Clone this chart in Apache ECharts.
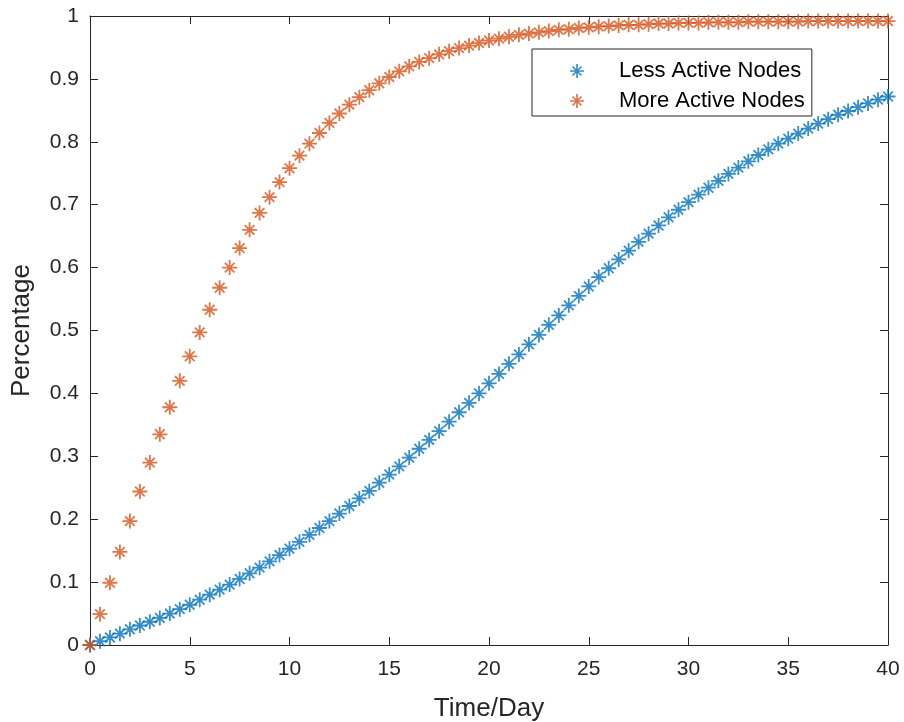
<!DOCTYPE html>
<html>
<head>
<meta charset="utf-8">
<script src="https://cdn.jsdelivr.net/npm/echarts@6/dist/echarts.min.js"></script>
<style>
html,body{margin:0;padding:0;background:#fff;}
#c{width:904px;height:722px;}
</style>
</head>
<body>
<div id="c"></div>
<script>
const days = [0,0.5,1,1.5,2,2.5,3,3.5,4,4.5,5,5.5,6,6.5,7,7.5,8,8.5,9,9.5,
  10,10.5,11,11.5,12,12.5,13,13.5,14,14.5,15,15.5,16,16.5,17,17.5,18,18.5,19,19.5,
  20,20.5,21,21.5,22,22.5,23,23.5,24,24.5,25,25.5,26,26.5,27,27.5,28,28.5,29,29.5,
  30,30.5,31,31.5,32,32.5,33,33.5,34,34.5,35,35.5,36,36.5,37,37.5,38,38.5,39,39.5,40];

const lessActive = [0.000,0.006,0.012,0.018,0.025,0.031,0.037,0.043,0.050,0.057,
  0.064,0.072,0.080,0.088,0.096,0.105,0.114,0.123,0.133,0.143,
  0.153,0.164,0.175,0.186,0.197,0.209,0.221,0.233,0.245,0.258,
  0.271,0.284,0.298,0.312,0.326,0.340,0.355,0.370,0.385,0.400,
  0.416,0.431,0.447,0.462,0.478,0.493,0.509,0.524,0.540,0.555,
  0.570,0.585,0.599,0.613,0.627,0.641,0.654,0.667,0.680,0.692,
  0.704,0.716,0.727,0.738,0.749,0.759,0.769,0.779,0.788,0.797,
  0.805,0.813,0.821,0.829,0.836,0.843,0.849,0.855,0.861,0.867,0.872];

const moreActive = [0.000,0.049,0.099,0.148,0.197,0.244,0.290,0.335,0.378,0.420,
  0.459,0.497,0.533,0.568,0.600,0.631,0.660,0.687,0.712,0.736,
  0.758,0.778,0.797,0.814,0.830,0.845,0.859,0.871,0.882,0.893,
  0.903,0.912,0.920,0.927,0.933,0.939,0.944,0.949,0.953,0.957,
  0.961,0.964,0.967,0.970,0.972,0.974,0.976,0.978,0.979,0.981,
  0.982,0.983,0.984,0.985,0.986,0.986,0.987,0.988,0.988,0.989,
  0.989,0.989,0.990,0.990,0.990,0.990,0.991,0.991,0.991,0.991,
  0.991,0.991,0.992,0.992,0.992,0.992,0.992,0.992,0.992,0.992,0.992];

const seriesNames = ['Less Active Nodes', 'More Active Nodes'];
const xTicks = [0,5,10,15,20,25,30,35,40];
const yTicks = [0,0.1,0.2,0.3,0.4,0.5,0.6,0.7,0.8,0.9,1];

const STAR = 'path://M44,0L56,0L56,100L44,100Z M0,44L100,44L100,56L0,56Z M22.2,13.8L86.2,77.8L77.8,86.2L13.8,22.2Z M86.2,22.2L22.2,86.2L13.8,77.8L77.8,13.8Z';
const AX = '#262626';
const FONT = 'Liberation Sans, Arial, sans-serif';

function pairs(xs, ys){ return xs.map((x,i)=>[x, ys[i]]); }

const chart = echarts.init(document.getElementById('c'), null, {renderer:'canvas'});
const baseAxisLine = {show:true, onZero:false, lineStyle:{color:AX, width:1}};
const tick = {show:true, inside:true, length:8, lineStyle:{color:AX, width:1}};
chart.setOption({
  animation:false,
  backgroundColor:'#fff',
  grid:{left:90, right:16, top:16, bottom:77, containLabel:false, outerBoundsMode:'none'},
  legend:{
    orient:'vertical', left:532, top:49,
    itemWidth:14, itemHeight:14, itemGap:8,
    backgroundColor:'#fff', borderColor:AX, borderWidth:1, borderRadius:0,
    padding:[11,7,4,38],
    textStyle:{fontFamily:FONT, fontSize:22, color:'#000', padding:[0,0,0,30]},
    data:[{name:seriesNames[0], icon:STAR},{name:seriesNames[1], icon:STAR}]
  },
  xAxis:[{
    type:'value', min:0, max:40, interval:5, position:'bottom',
    name:'Time/Day', nameLocation:'middle', nameGap:51,
    nameTextStyle:{fontFamily:FONT, fontSize:26, color:AX},
    axisLine:baseAxisLine, axisTick:tick, splitLine:{show:false},
    axisLabel:{fontFamily:FONT, fontSize:21, color:AX, margin:14,
      formatter:v=> xTicks.includes(v) ? String(v) : ''}
  },{
    type:'value', min:0, max:40, interval:5, position:'top',
    axisLine:baseAxisLine, axisTick:tick, splitLine:{show:false}, axisLabel:{show:false}
  }],
  yAxis:[{
    type:'value', min:0, max:1, interval:0.1, position:'left',
    name:'Percentage', nameLocation:'middle', nameGap:55, nameRotate:90,
    nameTextStyle:{fontFamily:FONT, fontSize:26, color:AX},
    axisLine:baseAxisLine, axisTick:tick, splitLine:{show:false},
    axisLabel:{fontFamily:FONT, fontSize:21, color:AX, margin:11,
      formatter:v=>{ const t = yTicks.find(k=>Math.abs(k-v)<1e-9); return t===undefined ? '' : String(t); }}
  },{
    type:'value', min:0, max:1, interval:0.1, position:'right',
    axisLine:baseAxisLine, axisTick:tick, splitLine:{show:false}, axisLabel:{show:false}
  }],
  series:[{
    name:seriesNames[0], type:'scatter', symbol:STAR, symbolSize:15, symbolKeepAspect:true,
    itemStyle:{color:'#0072BD'}, data:pairs(days, lessActive), z:3
  },{
    name:seriesNames[1], type:'scatter', symbol:STAR, symbolSize:15, symbolKeepAspect:true,
    itemStyle:{color:'#D95319'}, data:pairs(days, moreActive), z:4
  }]
});
</script>
</body>
</html>
